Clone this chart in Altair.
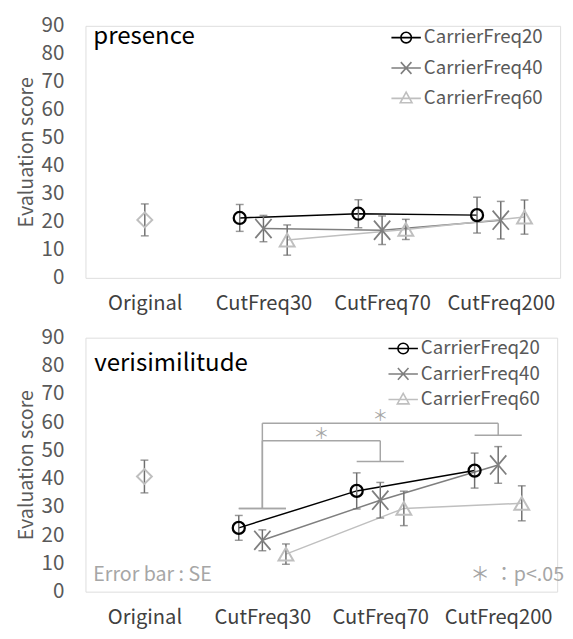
import altair as alt
import pandas as pd

FONT = "Noto Sans CJK JP"

categories = ["Original", "CutFreq30", "CutFreq70", "CutFreq200"]
series = ["CarrierFreq20", "CarrierFreq40", "CarrierFreq60"]

presence_mean = {
    "CarrierFreq20": [21.4, 22.9, 22.4],
    "CarrierFreq40": [17.6, 17.0, 20.6],
    "CarrierFreq60": [13.5, 17.3, 21.7],
}
presence_se = {
    "CarrierFreq20": [4.8, 5.0, 6.4],
    "CarrierFreq40": [4.7, 5.1, 6.7],
    "CarrierFreq60": [5.4, 3.6, 6.1],
}
presence_original = [20.7, 5.7]  # mean, SE

verisim_mean = {
    "CarrierFreq20": [22.6, 35.7, 42.9],
    "CarrierFreq40": [18.2, 32.4, 44.9],
    "CarrierFreq60": [13.3, 29.5, 31.3],
}
verisim_se = {
    "CarrierFreq20": [4.4, 6.4, 6.2],
    "CarrierFreq40": [3.7, 6.3, 6.5],
    "CarrierFreq60": [3.6, 6.1, 6.2],
}
verisim_original = [40.8, 5.8]

# significance comparisons: (from, to, bracket top, cap level at 'from', cap level at 'to')
verisim_brackets = [
    ("CutFreq30", "CutFreq70", 53.5, 29.5, 46.1),
    ("CutFreq30", "CutFreq200", 59.7, 29.5, 55.4),
]

# styling
series_colors = ["#000000", "#7f7f7f", "#bfbfbf"]
marker_shapes = ["circle", "M-0.85,-1L0.85,1M-0.85,1L0.85,-1", "triangle-up"]
marker_sizes = [150, 380, 230]
marker_widths = [2.3, 1.8, 2.0]
legend_paths = [
    "M-1,0L1,0M-0.36,0A0.36,0.36,0,1,1,0.36,0A0.36,0.36,0,1,1,-0.36,0",
    "M-1,0L1,0M-0.36,-0.4L0.36,0.4M-0.36,0.4L0.36,-0.4",
    "M-1,0L1,0M0,-0.42L0.4,0.3L-0.4,0.3Z",
]
DODGE = 0.2
ERR_COLOR = "#6f6f6f"
SIG_COLOR = "#a6a6a6"


def build_df(means, ses):
    rows = []
    for si, s in enumerate(series):
        for k in range(3):
            rows.append({"series": s, "si": si, "ci": k + 1,
                         "mean": means[s][k], "se": ses[s][k]})
    return pd.DataFrame(rows)


def panel(title, means, ses, orig, brackets, w, h, legend_xy, row_pad, title_xy, notes):
    df = build_df(means, ses)
    odf = pd.DataFrame([{"ci": 0, "mean": orig[0], "se": orig[1]}])

    xs = alt.Scale(domain=[-0.5, 3.5], nice=False, zero=False)
    ys = alt.Scale(domain=[0, 90], nice=False)
    label_expr = "[" + ",".join("'%s'" % c for c in categories) + "][datum.value]"
    x_axis = alt.Axis(values=[0, 1, 2, 3], labelExpr=label_expr, title=None, ticks=False,
                      domain=False, grid=False, labelFontSize=20.5, labelColor="#404040",
                      labelPadding=16, labelFlush=False, labelOverlap=False, labelFont=FONT)
    y_axis = alt.Axis(values=list(range(0, 91, 10)), title="Evaluation score", ticks=False,
                      domain=False, grid=False, labelFontSize=21, labelColor="#595959",
                      labelPadding=22, titleFontSize=20, titleColor="#595959",
                      titleFontWeight="normal", titlePadding=5, labelFont=FONT, titleFont=FONT)

    X = alt.X("x:Q", scale=xs, axis=x_axis)
    Y = alt.Y("mean:Q", scale=ys, axis=y_axis)
    color_scale = alt.Scale(domain=series, range=series_colors)

    base = alt.Chart(df).transform_calculate(
        x="datum.ci + (datum.si - 1) * %s" % DODGE,
        lo="datum.mean - datum.se",
        hi="datum.mean + datum.se",
    )
    obase = alt.Chart(odf).transform_calculate(
        x="datum.ci", lo="datum.mean - datum.se", hi="datum.mean + datum.se"
    )

    layers = []
    # connecting lines, one per series
    for si, s in enumerate(series):
        layers.append(base.transform_filter(alt.datum.series == s).mark_line(
            strokeWidth=1.5, color=series_colors[si]).encode(x=X, y=Y))

    # error bars
    for b in (base, obase):
        layers.append(b.mark_rule(color=ERR_COLOR, strokeWidth=1.5).encode(
            x=X, y=alt.Y("lo:Q", scale=ys, axis=y_axis), y2="hi:Q"))
        layers.append(b.mark_tick(color=ERR_COLOR, orient="horizontal", size=8, thickness=1.5).encode(
            x=X, y=alt.Y("lo:Q", scale=ys, axis=y_axis)))
        layers.append(b.mark_tick(color=ERR_COLOR, orient="horizontal", size=8, thickness=1.5).encode(
            x=X, y=alt.Y("hi:Q", scale=ys, axis=y_axis)))

    # markers
    for si, s in enumerate(series):
        layers.append(base.transform_filter(alt.datum.series == s).mark_point(
            shape=marker_shapes[si], size=marker_sizes[si], filled=False,
            color=series_colors[si], strokeWidth=marker_widths[si], opacity=1).encode(x=X, y=Y))
    layers.append(obase.mark_point(shape="diamond", size=230, filled=False, color="#bfbfbf",
                                   strokeWidth=2, opacity=1).encode(x=X, y=Y))

    # significance brackets
    if brackets:
        idx = {c: i for i, c in enumerate(categories)}
        segs = []
        stars = []
        for a, b, top, la, lb in brackets:
            ia, ib = idx[a], idx[b]
            segs.append({"x": ia - DODGE, "x2": ia + DODGE, "y": la, "y2": la})
            segs.append({"x": ib - DODGE, "x2": ib + DODGE, "y": lb, "y2": lb})
            segs.append({"x": ia, "x2": ia, "y": la, "y2": top})
            segs.append({"x": ib, "x2": ib, "y": lb, "y2": top})
            segs.append({"x": ia, "x2": ib, "y": top, "y2": top})
            stars.append({"x": (ia + ib) / 2, "mean": top + 2.4, "t": "＊"})
        layers.append(alt.Chart(pd.DataFrame(segs)).mark_rule(color=SIG_COLOR, strokeWidth=1.5).encode(
            x=X, x2="x2:Q", y=alt.Y("y:Q", scale=ys, axis=y_axis), y2="y2:Q"))
        layers.append(alt.Chart(pd.DataFrame(stars)).mark_text(
            color=SIG_COLOR, fontSize=16, font=FONT, baseline="middle").encode(x=X, y=Y, text="t:N"))

    # legend layer (marks invisible; provides the legend)
    leg = alt.Legend(title=None, orient="none", legendX=legend_xy[0], legendY=legend_xy[1],
                     labelFontSize=19, labelColor="#595959", labelFont=FONT, symbolSize=900,
                     symbolStrokeWidth=1.6, symbolOpacity=1, labelOffset=2,
                     rowPadding=row_pad, padding=0)
    layers.append(base.mark_point(filled=False, opacity=0).encode(
        x=X, y=Y,
        color=alt.Color("series:N", scale=color_scale, legend=leg),
        shape=alt.Shape("series:N", scale=alt.Scale(domain=series, range=legend_paths), legend=leg),
    ))

    # panel title
    layers.append(alt.Chart(pd.DataFrame({"t": [title]})).mark_text(
        align="left", baseline="middle", fontSize=24.5, font=FONT, color="#000000").encode(
        x=alt.value(title_xy[0]), y=alt.value(title_xy[1]), text="t:N"))

    for txt, xv, yv, al in notes:
        layers.append(alt.Chart(pd.DataFrame({"t": [txt]})).mark_text(
            align=al, baseline="middle", fontSize=20, font=FONT, color=SIG_COLOR).encode(
            x=alt.value(xv), y=alt.value(yv), text="t:N"))

    return alt.layer(*layers).properties(width=w, height=h)


top = panel("presence", presence_mean, presence_se, presence_original, None,
            484, 257, (311, -4), 5, (8, 12), [])
bottom = panel("verisimilitude", verisim_mean, verisim_se, verisim_original, verisim_brackets,
               481, 259, (308, -5), 0, (9, 27),
               [("Error bar : SE", 8, 242, "left"), ("＊ ：p<.05", 488, 242, "right")])

chart = alt.vconcat(top, bottom, spacing=12).resolve_scale(
    color="independent", shape="independent"
).resolve_legend(color="independent", shape="independent").properties(
    padding={"left": 8, "top": 0, "right": 0, "bottom": 0},
    background="white",
).configure_view(stroke="#404040", strokeWidth=1.5).configure(font=FONT)

chart.save("out.html", embed_options={"renderer": "svg", "actions": False})
